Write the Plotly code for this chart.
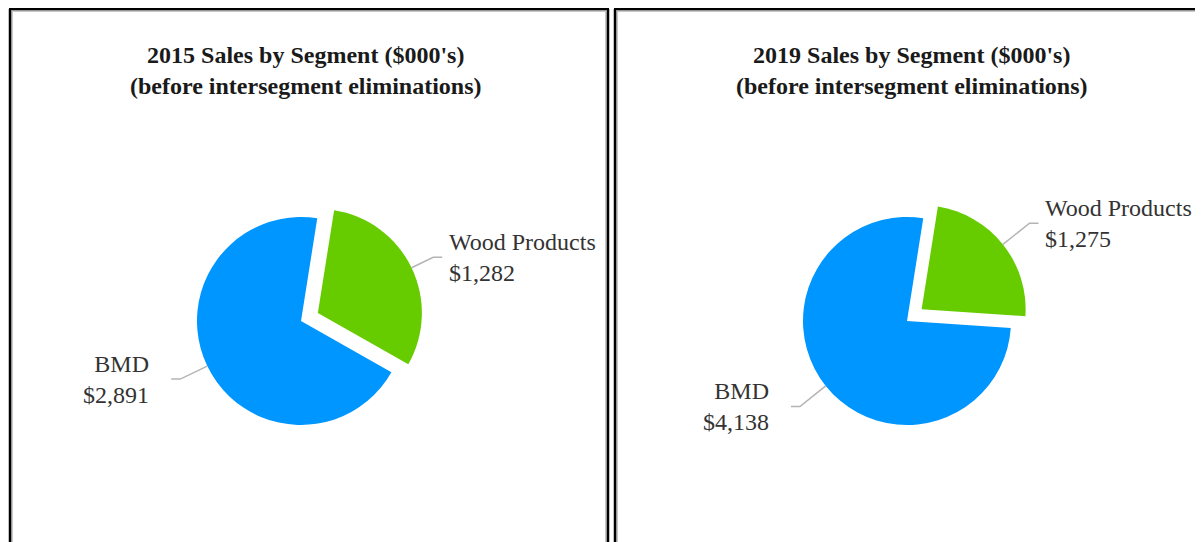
import math
import plotly.graph_objects as go

# ---------------- data ----------------
segments = ["Wood Products", "BMD"]
years = ["2015", "2019"]
sales_2015 = [1282, 2891]
sales_2019 = [1275, 4138]
all_sales = [sales_2015, sales_2019]

# ---------------- style ----------------
OFF = 8                       # page body margin
W, H = 1203 - OFF, 542 - OFF
colors = ["#66CC00", "#0096FF"]
pulls = [0.18, 0.0]
ROTATION = 9
R = 104                       # pie radius, px
centers = [(301, 321), (907, 321)]   # pie centres, px (window coords)
leader_radial = [[24, 30], [34, 33]]
FONT = "Liberation Serif, Times New Roman, serif"
LINE_COL = "#b4b4b4"
TEXT_COL = "#333333"


def px(x):
    return (x - OFF) / W


def py(y):
    return 1 - (y - OFF) / H


fig = go.Figure()
shapes = []
annotations = []

for k, (year, vals) in enumerate(zip(years, all_sales)):
    cx, cy = centers[k]
    half = R * (1 + max(pulls))
    fig.add_trace(go.Pie(
        labels=segments, values=vals,
        marker=dict(colors=colors, line=dict(width=0)),
        pull=pulls, sort=False, direction="clockwise", rotation=ROTATION,
        textinfo="none", hoverinfo="label+value", showlegend=False,
        domain=dict(x=[px(cx - half), px(cx + half)],
                    y=[py(cy + half), py(cy - half)]),
    ))
    # title
    annotations.append(dict(
        x=px(cx + 4), y=py(71), xref="paper", yref="paper",
        text=f"<b>{year} Sales by Segment ($000's)<br>(before intersegment eliminations)</b>",
        showarrow=False, xanchor="center", yanchor="middle",
        font=dict(family=FONT, size=24, color="#1a1a1a"),
    ))
    # labels with leader lines, derived from slice angles
    total = sum(vals)
    cum = 0
    for i, v in enumerate(vals):
        mid = math.radians(ROTATION + 360 * (cum + v / 2) / total)
        cum += v
        dx, dy = math.sin(mid), -math.cos(mid)
        scx = cx + pulls[i] * R * dx
        scy = cy + pulls[i] * R * dy
        ex, ey = scx + R * dx, scy + R * dy
        L = leader_radial[k][i]
        kx, ky = ex + L * dx, ey + L * dy
        side = 1 if dx > 0 else -1
        hx = kx + 9 * side
        shapes.append(dict(
            type="path", xref="paper", yref="paper",
            path=f"M {px(ex)},{py(ey)} L {px(kx)},{py(ky)} L {px(hx)},{py(ky)}",
            line=dict(color=LINE_COL, width=1.5),
        ))
        gap = 5 if side > 0 else 20
        annotations.append(dict(
            x=px(hx + gap * side), y=py(ky), xref="paper", yref="paper",
            text=f"{segments[i]}<br>${v:,}",
            showarrow=False,
            xanchor="left" if side > 0 else "right",
            align="left" if side > 0 else "right",
            yanchor="middle",
            font=dict(family=FONT, size=24, color=TEXT_COL),
        ))


# panel borders
def line(x0, y0, x1, y1, color, width):
    shapes.append(dict(type="line", xref="paper", yref="paper",
                       x0=px(x0), y0=py(y0), x1=px(x1), y1=py(y1),
                       line=dict(color=color, width=width)))


shade = "#c8c8c8"
# left panel
line(12, 11, 606, 11, shade, 2)
line(12, 11, 12, 560, shade, 2)
line(606, 11, 606, 560, shade, 2)
line(9, 9, 609, 9, "#000000", 2.5)
line(10, 9, 10, 560, "#000000", 2.5)
line(608, 9, 608, 560, "#000000", 2.5)
# right panel
line(617, 11, 1220, 11, shade, 2)
line(617, 11, 617, 560, shade, 2)
line(614, 9, 1220, 9, "#000000", 2.5)
line(615, 9, 615, 560, "#000000", 2.5)

fig.update_layout(
    width=W, height=H,
    margin=dict(l=0, r=0, t=0, b=0),
    paper_bgcolor="white", plot_bgcolor="white",
    shapes=shapes, annotations=annotations,
    showlegend=False,
)

fig.write_html("out.html")
